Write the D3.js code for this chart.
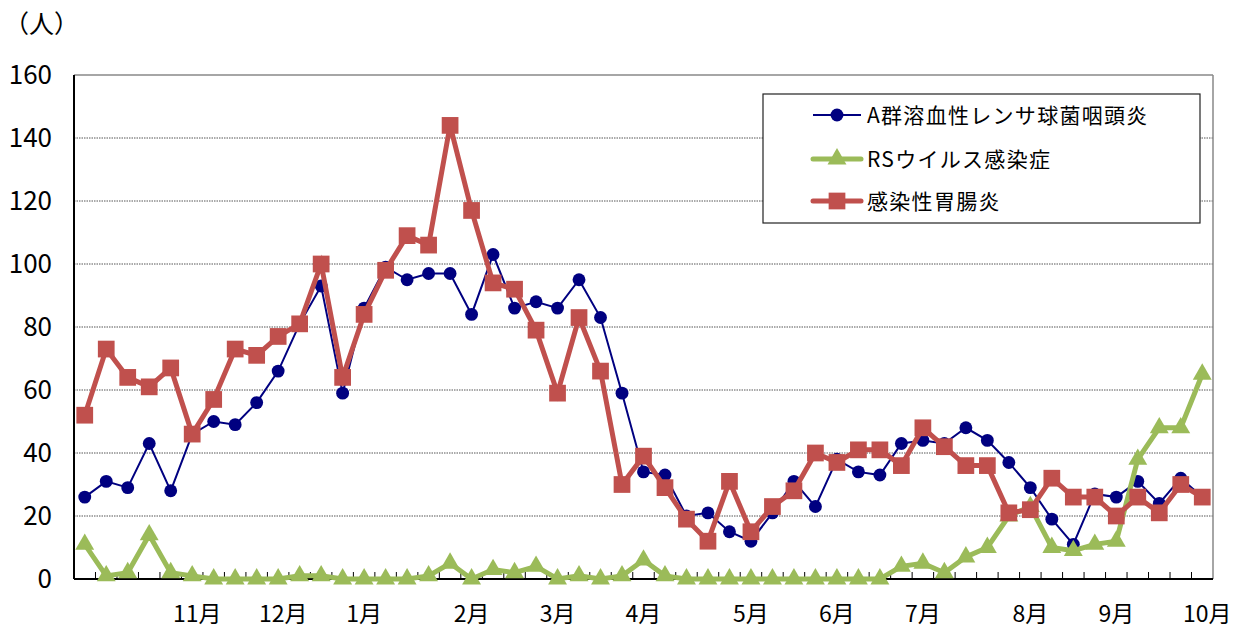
<!DOCTYPE html>
<html><head><meta charset="utf-8">
<script src="https://cdn.jsdelivr.net/npm/d3@7/dist/d3.min.js"></script>
<style>
html,body{margin:0;padding:0;background:#fff;}
svg{display:block;}
text{font-family:"Noto Sans CJK JP","Noto Sans",sans-serif;fill:#000;}
</style></head>
<body>
<svg id="chart" width="1247" height="632"></svg>
<script>
// ---- data ----
const weeks = d3.range(53); // weekly categories
const monthLabels = ["11月","12月","1月","2月","3月","4月","5月","6月","7月","8月","9月","10月"];
const monthWeekIndex = [5,9,13,18,22,26,31,35,39,44,48,52];
const yTicks = [0,20,40,60,80,100,120,140,160];
const seriesNames = ["A群溶血性レンサ球菌咽頭炎","RSウイルス感染症","感染性胃腸炎"];
const strepA = [26,31,29,43,28,46,50,49,56,66,81,93,59,86,99,95,97,97,84,103,86,88,86,95,83,59,34,33,20,21,15,12,21,31,23,38,34,33,43,44,43,48,44,37,29,19,11,27,26,31,24,32,26];
const rsv    = [11,1,2,14,2,1,0,0,0,0,1,1,0,0,0,0,1,5,0,3,2,4,0,1,0,1,6,1,0,0,0,0,0,0,0,0,0,0,4,5,2,7,10,20,23,10,9,11,12,38,48,48,65];
const gastro = [52,73,64,61,67,46,57,73,71,77,81,100,64,84,98,109,106,144,117,94,92,79,59,83,66,30,39,29,19,12,31,15,23,28,40,37,41,41,36,48,42,36,36,21,22,32,26,26,20,26,21,30,26];

// ---- layout ----
const L = 74, R = 1213, T = 75, B = 579;
const svg = d3.select("#chart");
const x = d3.scaleBand().domain(weeks).range([L, R]);
const cx = i => x(i) + x.bandwidth() / 2;
const y = d3.scaleLinear().domain([0,160]).range([B, T]);

// gridlines
svg.append("g").selectAll("line").data(yTicks.filter(v => v > 0 && v < 160)).join("line")
  .attr("x1", L).attr("x2", R).attr("y1", d => y(d)).attr("y2", d => y(d))
  .attr("stroke", "#555").attr("stroke-width", 1).attr("stroke-dasharray", "1.5,1");
// plot border top/right
svg.append("line").attr("x1", L).attr("x2", R).attr("y1", y(160)).attr("y2", y(160)).attr("stroke", "#888").attr("stroke-width", 1.5);
svg.append("line").attr("x1", R).attr("x2", R).attr("y1", T).attr("y2", B).attr("stroke", "#888").attr("stroke-width", 1.5);

// y axis labels
svg.append("g").selectAll("text").data(yTicks).join("text")
  .attr("x", 52).attr("y", d => y(d)).attr("dy", "0.36em")
  .attr("text-anchor", "end").attr("font-size", 26).text(d => d);

// x ticks at category boundaries (inside)
const bounds = d3.range(1, 53).map(i => x(i));
svg.append("g").selectAll("line").data(bounds).join("line")
  .attr("x1", d => d).attr("x2", d => d).attr("y1", B).attr("y2", B - 7)
  .attr("stroke", "#000").attr("stroke-width", 1);

// axes lines
svg.append("line").attr("x1", L).attr("x2", L).attr("y1", T).attr("y2", B).attr("stroke", "#000").attr("stroke-width", 2);
svg.append("line").attr("x1", L).attr("x2", R).attr("y1", B).attr("y2", B).attr("stroke", "#000").attr("stroke-width", 2);

// month labels
svg.append("g").selectAll("text").data(monthLabels).join("text")
  .attr("x", (d, k) => cx(monthWeekIndex[k]) + (d.length > 2 ? 5 : 0))
  .attr("y", 622).attr("text-anchor", "middle").attr("font-size", 23).text(d => d);

// unit label
svg.append("text").attr("x", 4).attr("y", 33).attr("font-size", 25).text("（人）");

// series
const line = d3.line().x((d, i) => cx(i)).y(d => y(d));
const sym = (type, size) => d3.symbol().type(type).size(size)();

function drawSeries(vals, color, lw, type, size) {
  const g = svg.append("g");
  g.append("path").datum(vals).attr("d", line).attr("fill", "none")
    .attr("stroke", color).attr("stroke-width", lw).attr("stroke-linejoin", "miter");
  g.selectAll("path.m").data(vals).join("path").attr("class", "m")
    .attr("transform", (d, i) => `translate(${cx(i)},${y(d)})`)
    .attr("d", sym(type, size)).attr("fill", color);
}
drawSeries(strepA, "#000080", 2, d3.symbolCircle, 130);
drawSeries(rsv, "#9BBB59", 5, d3.symbolTriangle, 155);
drawSeries(gastro, "#C0504D", 5, d3.symbolSquare, 280);

// legend
const lg = svg.append("g");
lg.append("rect").attr("x", 763).attr("y", 94).attr("width", 437).attr("height", 129)
  .attr("fill", "#fff").attr("stroke", "#222").attr("stroke-width", 1.2);
const legSpec = [
  {c: "#000080", w: 2, t: d3.symbolCircle, s: 130},
  {c: "#9BBB59", w: 5, t: d3.symbolTriangle, s: 155},
  {c: "#C0504D", w: 5, t: d3.symbolSquare, s: 280}
];
const legY = [115, 159, 201];
seriesNames.forEach((name, k) => {
  const sp = legSpec[k];
  lg.append("line").attr("x1", 813).attr("x2", 861).attr("y1", legY[k]).attr("y2", legY[k])
    .attr("stroke", sp.c).attr("stroke-width", sp.w).attr("stroke-linecap", sp.w > 2 ? "round" : "butt");
  lg.append("path").attr("transform", `translate(837,${legY[k]})`).attr("d", sym(sp.t, sp.s)).attr("fill", sp.c);
  lg.append("text").attr("x", 867).attr("y", legY[k]).attr("dy", "0.36em")
    .attr("font-size", 21).attr("letter-spacing", 1.3).text(name);
});
</script>
</body></html>
